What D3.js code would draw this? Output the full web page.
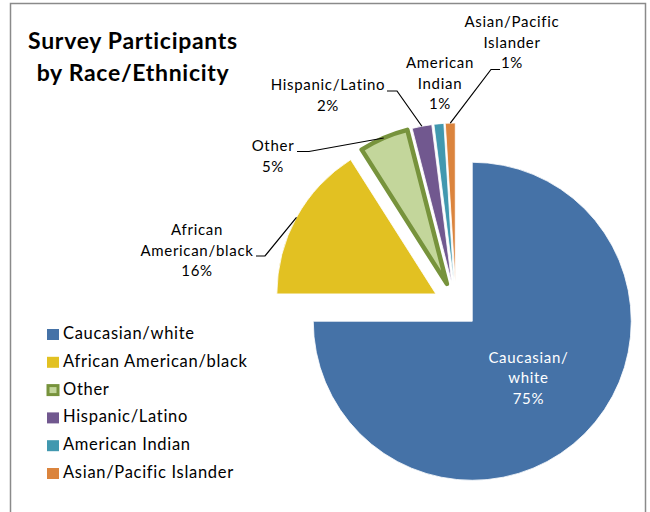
<!DOCTYPE html>
<html>
<head>
<meta charset="utf-8">
<script src="https://cdn.jsdelivr.net/npm/d3@7"></script>
<style>
  html, body { margin: 0; padding: 0; background: #fff; }
  svg { display: block; font-family: Lato, "Open Sans", sans-serif; letter-spacing: 0.7px; }
</style>
</head>
<body>
<svg id="chart" width="650" height="512"></svg>
<script>
// Survey participants by race/ethnicity (percent of respondents)
const categories = [
  "Caucasian/white",
  "African American/black",
  "Other",
  "Hispanic/Latino",
  "American Indian",
  "Asian/Pacific Islander"
];
const values = [75, 16, 5, 2, 1, 1];
const labelLines = [
  ["Caucasian/", "white"],
  ["African", "American/black"],
  ["Other"],
  ["Hispanic/Latino"],
  ["American", "Indian"],
  ["Asian/Pacific", "Islander"]
];
const fills   = ["#4572A7", "#E2C122", "#C3D69B", "#71588F", "#4198AF", "#DB843D"];
const strokes = [null, null, "#77933C", null, null, null];

const svg = d3.select("#chart");

// chart frame
svg.append("rect")
  .attr("x", 10.5).attr("y", 3.5)
  .attr("width", 635).attr("height", 540)
  .attr("fill", "#fff")
  .attr("stroke", "#8a8a8a")
  .attr("stroke-width", 1.5);

// title
const title = svg.append("text")
  .attr("text-anchor", "middle")
  .attr("font-weight", "bold")
  .attr("font-size", 23)
  .attr("fill", "#000");
title.append("tspan").attr("x", 133).attr("y", 49).text("Survey Participants");
title.append("tspan").attr("x", 133).attr("y", 81).text("by Race/Ethnicity");

// pie geometry
const cx = 456, cy = 305, radius = 159, explode = 23;
const pie = d3.pie().sort(null).value(d => d);
const arcs = pie(values);
const arc = d3.arc().innerRadius(0).outerRadius(radius);

function midAngle(d) { return (d.startAngle + d.endAngle) / 2; }
function offset(d, dist) {
  const a = midAngle(d);
  return [Math.sin(a) * dist, -Math.cos(a) * dist];
}

const pieG = svg.append("g").attr("transform", `translate(${cx},${cy})`);

pieG.selectAll("path.slice")
  .data(arcs)
  .join("path")
  .attr("class", "slice")
  .attr("transform", d => { const o = offset(d, explode); return `translate(${o[0]},${o[1]})`; })
  .attr("d", arc)
  .attr("fill", (d, i) => fills[i])
  .attr("stroke", (d, i) => strokes[i] || "#fff")
  .attr("stroke-width", (d, i) => strokes[i] ? 4.5 : 0.8)
  .attr("stroke-linejoin", "round");

// label inside the largest slice
const labelSize = 15, lineH = 20.5;
{
  const d = arcs[0];
  const c = arc.centroid(d);
  const o = offset(d, explode);
  const lines = labelLines[0].concat([values[0] + "%"]);
  const t = pieG.append("text")
    .attr("text-anchor", "middle")
    .attr("font-size", labelSize)
    .attr("fill", "#fff");
  lines.forEach((s, k) => {
    t.append("tspan")
      .attr("x", c[0] + o[0])
      .attr("y", c[1] + o[1] + (k - 1) * lineH + 6)
      .text(s);
  });
}

// outside labels: centre x, first baseline, leader line start (label side)
const outside = [
  { i: 1, x: 197, y: 235, lead: [[256, 256], [265, 256]] },
  { i: 2, x: 273, y: 151, lead: [[297, 151.5], [309, 151.5]] },
  { i: 3, x: 328, y: 90,  lead: [[387, 91], [397, 91]] },
  { i: 4, x: 440, y: 68,  lead: null },
  { i: 5, x: 512, y: 27,  lead: [[500, 69.5], [491, 69.5]] }
];

outside.forEach(L => {
  const lines = labelLines[L.i].concat([values[L.i] + "%"]);
  const t = svg.append("text")
    .attr("text-anchor", "middle")
    .attr("font-size", labelSize)
    .attr("fill", "#000");
  lines.forEach((s, k) => {
    t.append("tspan").attr("x", L.x).attr("y", L.y + k * lineH).text(s);
  });
  if (L.lead) {
    const d = arcs[L.i];
    const o = offset(d, explode + radius);
    const pts = L.lead.concat([[cx + o[0], cy + o[1]]]);
    svg.append("path")
      .attr("d", d3.line()(pts))
      .attr("fill", "none")
      .attr("stroke", "#000")
      .attr("stroke-width", 1.2);
  }
});

// legend
const legendY0 = 339, legendStep = 27.8;
const legend = svg.append("g");
categories.forEach((name, i) => {
  const y = legendY0 + i * legendStep;
  const hasStroke = !!strokes[i];
  legend.append("rect")
    .attr("x", hasStroke ? 48 : 47)
    .attr("y", y - 10 + (hasStroke ? 1 : 0))
    .attr("width", hasStroke ? 10 : 12)
    .attr("height", hasStroke ? 9 : 11)
    .attr("fill", fills[i])
    .attr("stroke", strokes[i] || "none")
    .attr("stroke-width", hasStroke ? 3 : 0);
  legend.append("text")
    .attr("x", 63)
    .attr("y", y)
    .attr("font-size", 16.5)
    .attr("fill", "#000")
    .text(name);
});
</script>
</body>
</html>
